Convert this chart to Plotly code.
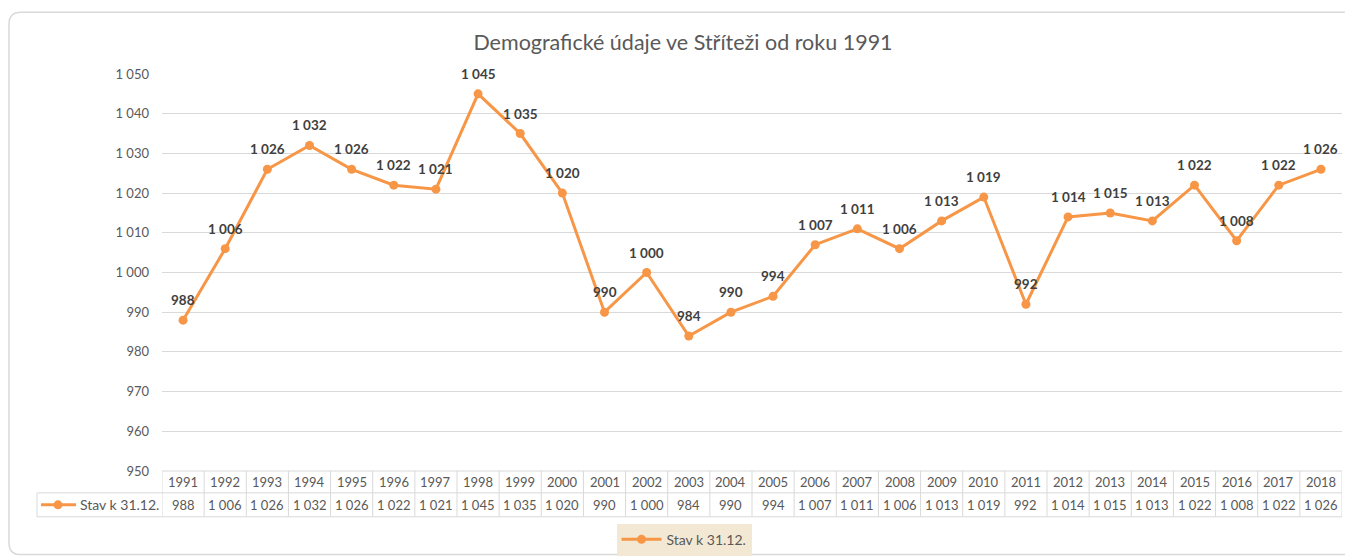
import plotly.graph_objects as go

years = list(range(1991, 2019))
population = [988, 1006, 1026, 1032, 1026, 1022, 1021, 1045, 1035, 1020,
              990, 1000, 984, 990, 994, 1007, 1011, 1006, 1013, 1019,
              992, 1014, 1015, 1013, 1022, 1008, 1022, 1026]
series_name = "Stav k 31.12."
title_text = "Demografické údaje ve Stříteži od roku 1991"
y_ticks = list(range(950, 1051, 10))

ORANGE = "#F79646"
GRID = "#D9D9D9"
TXT = "#595959"
FONT = "Lato"

W, H = 1345, 559
L, R, T, B = 162, 3, 74, 86
PW, PH = W - L - R, H - T - B


def fmt(v):
    return f"{v:,}".replace(",", " ")


def px(x):
    return (x - L) / PW


def py(y):
    return (H - B - y) / PH


xs = list(range(len(years)))

fig = go.Figure()
fig.add_trace(go.Scatter(
    x=xs, y=population, mode="lines+markers", name=series_name,
    line=dict(color=ORANGE, width=3), marker=dict(color=ORANGE, size=9),
    cliponaxis=False, hoverinfo="skip",
))

shapes = []
annotations = []

# data labels above points
for i, v in zip(xs, population):
    annotations.append(dict(text=fmt(v), xref="x", yref="y", x=i, y=v,
                            yshift=20, xanchor="center", yanchor="middle",
                            showarrow=False,
                            font=dict(family=FONT, size=13.5, color="#404040",
                                      weight="bold")))

# card border (right side runs off the page)
x0, y0, x1, y1, r = 9, 12, 1420, 557, 12
path = (f"M {px(x0+r)} {py(y0)} L {px(x1)} {py(y0)} "
        f"M {px(x1)} {py(y1)} L {px(x0+r)} {py(y1)} "
        f"Q {px(x0)} {py(y1)} {px(x0)} {py(y1-r)} L {px(x0)} {py(y0+r)} "
        f"Q {px(x0)} {py(y0)} {px(x0+r)} {py(y0)}")
shapes.append(dict(type="path", path=path, xref="paper", yref="paper",
                   line=dict(color="#D9D9D9", width=1.5), layer="below"))

# data table
row_top, row_mid, row_bot = 473, 495, 519
TL = dict(color=GRID, width=1)
n = len(years)
for i in range(n + 1):
    shapes.append(dict(type="line", xref="x", yref="paper",
                       x0=i - 0.5, x1=i - 0.5, y0=py(row_top), y1=py(row_bot),
                       line=TL, layer="above"))
shapes.append(dict(type="line", xref="paper", yref="paper", x0=0, x1=1,
                   y0=py(row_top), y1=py(row_top), line=TL))
shapes.append(dict(type="line", xref="paper", yref="paper", x0=px(37), x1=1,
                   y0=py(row_mid), y1=py(row_mid), line=TL))
shapes.append(dict(type="line", xref="paper", yref="paper", x0=px(37), x1=1,
                   y0=py(row_bot), y1=py(row_bot), line=TL))
shapes.append(dict(type="line", xref="paper", yref="paper", x0=px(37), x1=px(37),
                   y0=py(row_mid), y1=py(row_bot), line=TL))
# legend key inside table
shapes.append(dict(type="line", xref="paper", yref="paper", x0=px(41), x1=px(76),
                   y0=py(507), y1=py(507), line=dict(color=ORANGE, width=3)))
shapes.append(dict(type="circle", xref="paper", yref="paper",
                   x0=px(53.5), x1=px(62.5), y0=py(502.5), y1=py(511.5),
                   fillcolor=ORANGE, line=dict(color=ORANGE, width=0)))
annotations.append(dict(text=series_name, xref="paper", yref="paper",
                        x=px(78), y=py(507), xanchor="left", yanchor="middle",
                        showarrow=False, font=dict(family=FONT, size=14, color=TXT)))

for i, (yr, v) in enumerate(zip(years, population)):
    annotations.append(dict(text=str(yr), xref="x", yref="paper", x=i, y=py(484),
                            xanchor="center", yanchor="middle", showarrow=False,
                            font=dict(family=FONT, size=13, color=TXT)))
    annotations.append(dict(text=fmt(v), xref="x", yref="paper", x=i, y=py(507),
                            xanchor="center", yanchor="middle", showarrow=False,
                            font=dict(family=FONT, size=13, color=TXT)))

fig.update_layout(
    width=W, height=H,
    margin=dict(l=L, r=R, t=T, b=B),
    paper_bgcolor="white", plot_bgcolor="white",
    separators=", ",
    font=dict(family=FONT, color=TXT),
    title=dict(text=title_text, x=683 / W, xanchor="center",
               y=1 - 42 / H, yanchor="middle", yref="container",
               font=dict(family=FONT, size=21.5, color=TXT)),
    xaxis=dict(range=[-0.5, n - 0.5], showticklabels=False, showgrid=False,
               zeroline=False, showline=False, fixedrange=True),
    yaxis=dict(range=[950, 1050], tickvals=y_ticks, tickformat=",d",
               showgrid=True, gridcolor=GRID, gridwidth=1, zeroline=False,
               showline=False, ticks="", ticklabelstandoff=12,
               tickfont=dict(family=FONT, size=13, color=TXT), fixedrange=True),
    showlegend=True,
    legend=dict(orientation="h", x=px(684), xanchor="center", y=py(526),
                yanchor="top", bgcolor="#F3E8D3", borderwidth=0,
                font=dict(family=FONT, size=14, color=TXT),
                itemwidth=40),
    shapes=shapes, annotations=annotations,
)

fig.write_html("out.html",
               config={"displayModeBar": False},
               post_script="document.body.style.margin='0';"
                           "document.body.style.overflow='hidden';")
